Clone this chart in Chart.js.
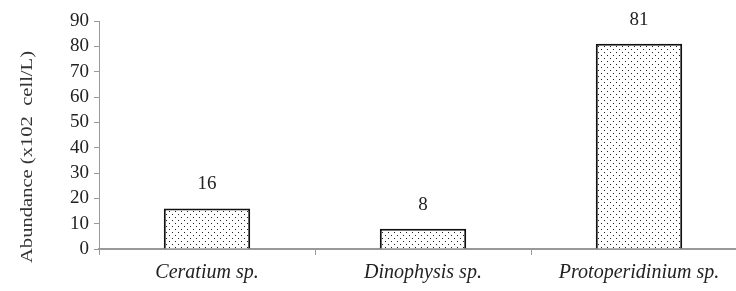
<!DOCTYPE html>
<html><head><meta charset="utf-8">
<script src="https://cdn.jsdelivr.net/npm/chart.js@4"></script>
<style>
html,body{margin:0;padding:0;background:#fff;overflow:hidden;width:736px;height:291px}
#wrap{width:760px;height:291px;position:relative}
</style></head>
<body><div id="wrap"><canvas id="c"></canvas></div>
<script>
const categories = ["Ceratium sp.", "Dinophysis sp.", "Protoperidinium sp."];
const abundance = [16, 8, 81];
const yTicks = [0, 10, 20, 30, 40, 50, 60, 70, 80, 90];
const yTitle = "Abundance (x102  cell/L)";

function makePattern(){
  const p = document.createElement('canvas');
  p.width = 6; p.height = 6;
  const g = p.getContext('2d');
  g.fillStyle = '#fff'; g.fillRect(0,0,6,6);
  g.fillStyle = '#222';
  g.fillRect(1,1,1,1);
  g.fillRect(4,4,1,1);
  return g.createPattern(p,'repeat');
}
const pat = makePattern();

const labelPlugin = {
  id:'vals',
  afterDatasetsDraw(chart){
    const ctx = chart.ctx;
    const meta = chart.getDatasetMeta(0);
    ctx.save();
    ctx.font = '19px "Liberation Serif", "Times New Roman", serif';
    ctx.fillStyle = '#222';
    ctx.textAlign = 'center';
    ctx.textBaseline = 'alphabetic';
    meta.data.forEach((el,i)=>{
      ctx.fillText(String(abundance[i]), el.x, el.y - 19);
    });
    ctx.restore();
  }
};
const titlePlugin = {
  id:'ytitle',
  afterDraw(chart){
    const ctx = chart.ctx;
    ctx.save();
    ctx.translate(28, 157);
    ctx.rotate(-Math.PI/2);
    ctx.font = '16px "Liberation Serif", "Times New Roman", serif';
    ctx.fillStyle = '#333';
    ctx.textAlign = 'center';
    ctx.textBaseline = 'middle';
    const w = ctx.measureText(yTitle).width;
    ctx.scale(212 / w, 1);
    ctx.fillText(yTitle, 0, 0);
    ctx.restore();
  }
};

new Chart(document.getElementById('c'), {
  type:'bar',
  data:{labels:categories, datasets:[{data:abundance, backgroundColor:pat, borderColor:'#111', borderWidth:2, borderSkipped:'bottom', barPercentage:0.8, categoryPercentage:0.5}]},
  options:{
    responsive:true, maintainAspectRatio:false, animation:false,
    devicePixelRatio:1,
    layout:{padding:{left:0, right:13, top:21, bottom:0}},
    plugins:{legend:{display:false}, tooltip:{enabled:false}},
    scales:{
      x:{
        grid:{display:true, drawOnChartArea:false, offset:true, color:'#999', tickLength:6, tickWidth:1},
        border:{color:'#999', width:2},
        ticks:{color:'#222', font:{family:'"Liberation Serif", serif', size:20, style:'italic'}, padding:6, maxRotation:0, autoSkip:false}
      },
      y:{
        min:0, max:90, afterBuildTicks(s){ s.ticks = yTicks.map(v=>({value:v})); },
        grid:{display:true, drawOnChartArea:false, color:'#999', tickLength:5},
        border:{color:'#999', width:1},
        ticks:{color:'#222', font:{family:'"Liberation Serif", serif', size:19}, padding:5, autoSkip:false},
        afterFit(s){ s.width = 99; }
      }
    }
  },
  plugins:[labelPlugin, titlePlugin]
});
</script></body></html>
